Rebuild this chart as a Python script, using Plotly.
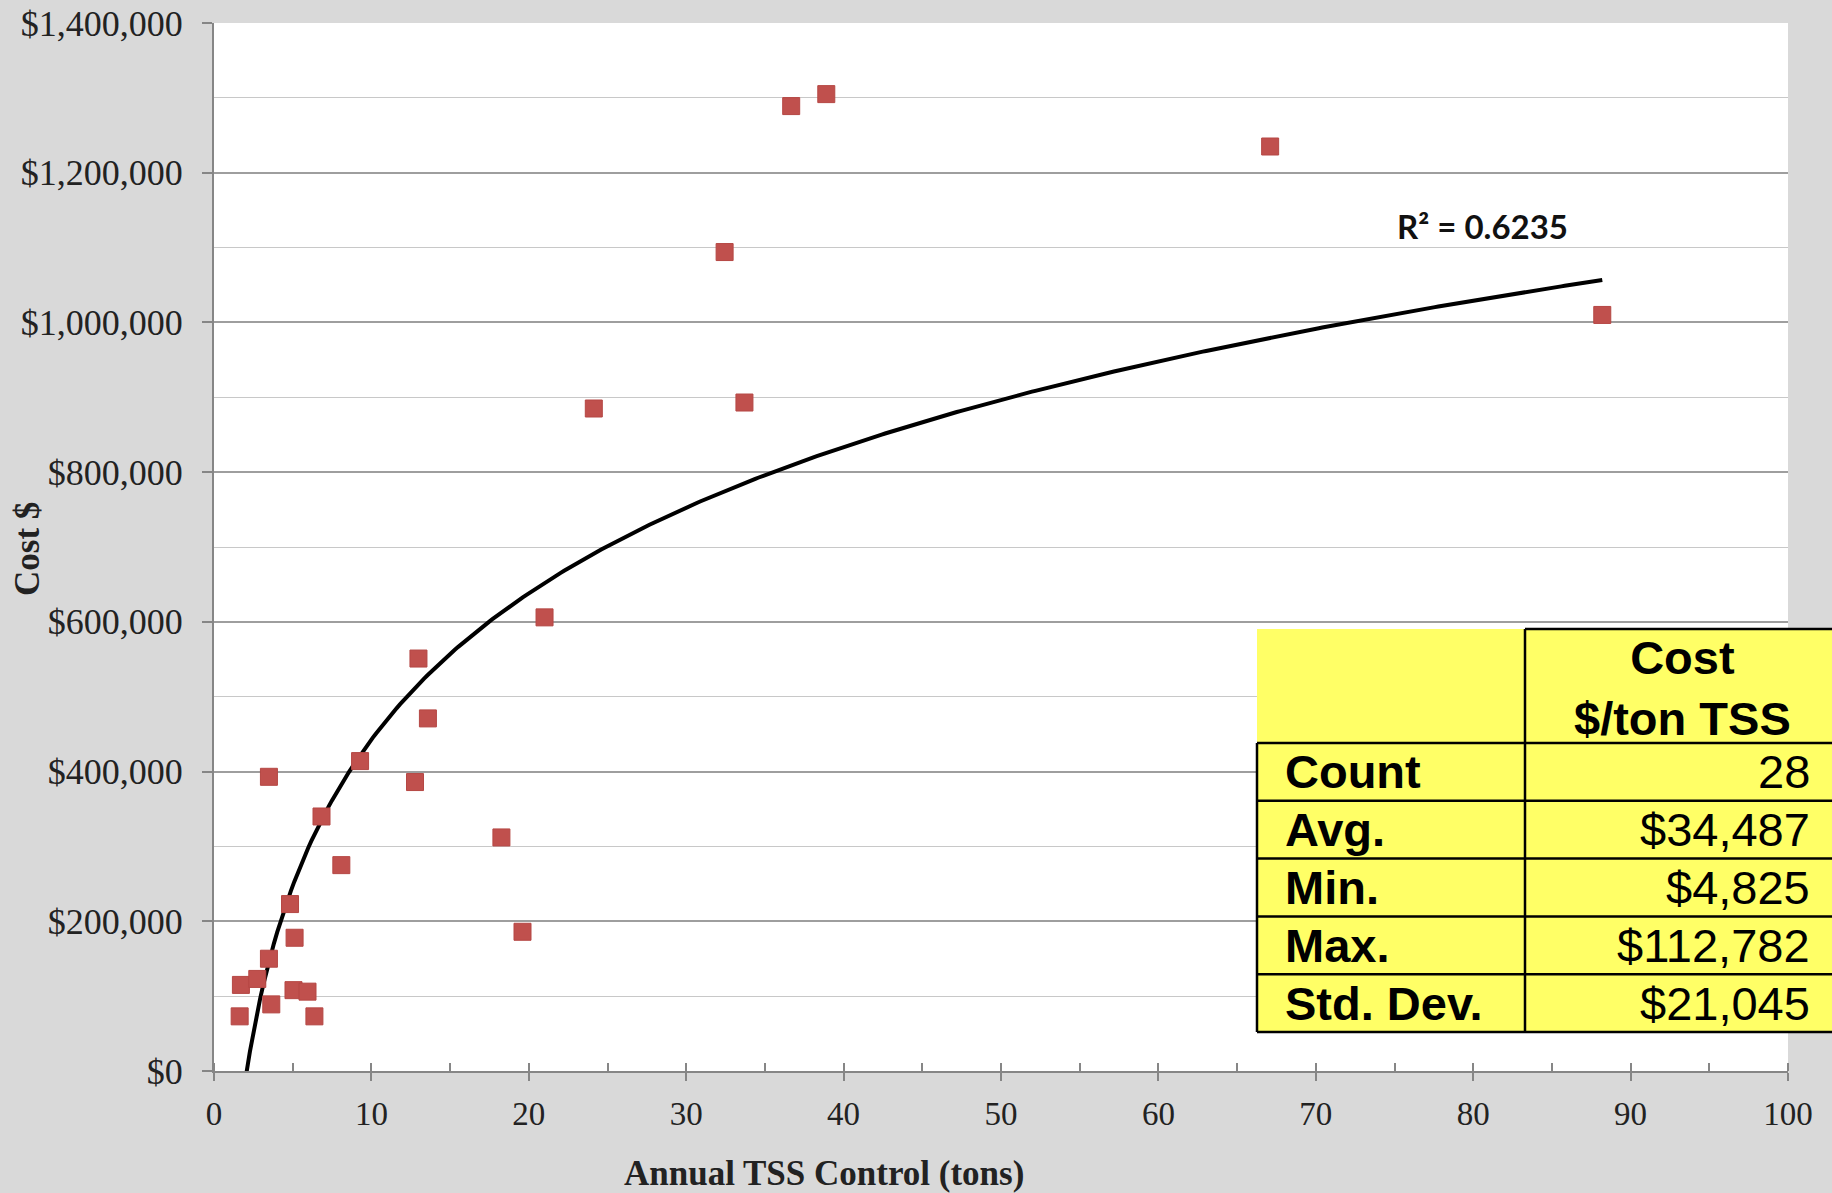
import numpy as np
import plotly.graph_objects as go

# ---- data ----
tss_tons = [1.63, 1.71, 2.75, 3.49, 3.64, 3.49, 4.83, 5.12, 5.05, 5.94, 6.38, 6.83, 8.09, 9.28,
            12.77, 12.99, 13.59, 18.26, 19.6, 21.0, 24.13, 32.44, 33.7, 36.67, 38.9, 67.1, 88.2]
cost_usd = [73000, 115000, 123000, 150000, 89000, 393000, 223000, 178000, 108000, 106000, 73000,
            340000, 275000, 414000, 386000, 551000, 471000, 312000, 186000, 606000, 885000,
            1094000, 893000, 1289000, 1305000, 1235000, 1010000]
r2_label = "R² = 0.6235"

# logarithmic trendline y = a*ln(x) + b, coefficients
trend_a = 282000
trend_b = -206600

table_header = "Cost<br>$/ton TSS"
table_rows = ["Count", "Avg.", "Min.", "Max.", "Std. Dev."]
table_values = ["28", "$34,487", "$4,825", "$112,782", "$21,045"]

xt = np.linspace(min(tss_tons), max(tss_tons), 400)
yt = trend_a * np.log(xt) + trend_b

W, H = 1832, 1193
L, R, T, B = 214, 1788, 23, 1071

def px(xp):
    return (xp - L) / (R - L)

def py(yp):
    return (B - yp) / (B - T)

fig = go.Figure()
fig.add_trace(go.Scatter(x=xt, y=yt, mode="lines", line=dict(color="black", width=4),
                         showlegend=False, hoverinfo="skip"))
fig.add_trace(go.Scatter(x=tss_tons, y=cost_usd, mode="markers",
                         marker=dict(symbol="square", size=17, color="#C0504D",
                                     line=dict(color="#B54744", width=1)),
                         showlegend=False))

serif = "Liberation Serif, Times New Roman, serif"
sans = "Liberation Sans, Arial, sans-serif"

fig.update_layout(
    width=W, height=H,
    paper_bgcolor="#D9D9D9", plot_bgcolor="white",
    margin=dict(l=L, r=W - R, t=T, b=H - B, autoexpand=False),
    xaxis=dict(range=[0, 100], dtick=10, showgrid=False, zeroline=False, automargin=False,
               showline=True, linecolor="#868686", linewidth=2,
               ticks="outside", ticklen=8, tickcolor="#868686", tickwidth=1.5,
               tickfont=dict(family=serif, size=33, color="#222"),
               ticklabelstandoff=4,
               minor=dict(dtick=5, ticks="inside", ticklen=8, tickcolor="#868686", showgrid=False)),
    yaxis=dict(range=[0, 1400000], dtick=200000, tickprefix="$", tickformat=",d", automargin=False,
               showgrid=True, gridcolor="#9E9E9E", gridwidth=1.5, zeroline=False,
               showline=True, linecolor="#868686", linewidth=2,
               ticks="outside", ticklen=10, tickcolor="#868686", tickwidth=1.5,
               tickfont=dict(family=serif, size=36, color="#222"),
               ticklabelstandoff=12,
               minor=dict(dtick=100000, showgrid=True, gridcolor="#C8C8C8", gridwidth=1.2)),
)

annotations = [
    dict(text="<b>Annual TSS Control (tons)</b>", x=px(824), y=py(1173), xref="paper", yref="paper",
         showarrow=False, font=dict(family=serif, size=35, color="#222"), xanchor="center", yanchor="middle"),
    dict(text="<b>Cost $</b>", x=px(27), y=py(549), xref="paper", yref="paper", textangle=-90,
         showarrow=False, font=dict(family=serif, size=35, color="#222"), xanchor="center", yanchor="middle"),
    dict(text="<b>" + r2_label + "</b>", x=px(1482), y=py(226), xref="paper", yref="paper",
         showarrow=False, font=dict(family="Lato, Open Sans, sans-serif", size=33, color="#111"),
         xanchor="center", yanchor="middle"),
]

# ---- summary table ----
tL, tD, tR = 1257, 1525, 1834
tTop, tHeadBot, tBot = 629, 743, 1032
rowh = (tBot - tHeadBot) / len(table_rows)
shapes = [dict(type="rect", xref="paper", yref="paper", x0=px(tL), x1=px(tR), y0=py(tBot), y1=py(tTop),
               fillcolor="#FFFF66", line=dict(width=0), layer="above")]
lw = 2.5
def hline(x0, x1, y):
    shapes.append(dict(type="line", xref="paper", yref="paper", x0=px(x0), x1=px(x1), y0=py(y), y1=py(y),
                       line=dict(color="black", width=lw), layer="above"))
def vline(x, y0, y1):
    shapes.append(dict(type="line", xref="paper", yref="paper", x0=px(x), x1=px(x), y0=py(y0), y1=py(y1),
                       line=dict(color="black", width=lw), layer="above"))
hline(tD, tR, tTop)
vline(tD, tTop, tBot)
vline(tL, tHeadBot, tBot)
for i in range(len(table_rows) + 1):
    hline(tL, tR, tHeadBot + i * rowh)

tfont = 47
annotations.append(dict(text="<b>" + table_header + "</b>", x=px((tD + 1832) / 2 + 4), y=py((tTop + tHeadBot) / 2 + 2),
                        xref="paper", yref="paper", showarrow=False, align="center",
                        font=dict(family=sans, size=tfont, color="black"), xanchor="center", yanchor="middle"))
for i, (lab, val) in enumerate(zip(table_rows, table_values)):
    yc = tHeadBot + (i + 0.5) * rowh
    annotations.append(dict(text="<b>" + lab + "</b>", x=px(1283), y=py(yc), xref="paper", yref="paper",
                            showarrow=False, font=dict(family=sans, size=tfont, color="black"),
                            xanchor="left", yanchor="middle"))
    annotations.append(dict(text=val, x=px(1812), y=py(yc), xref="paper", yref="paper",
                            showarrow=False, font=dict(family=sans, size=tfont, color="black"),
                            xanchor="right", yanchor="middle"))

fig.update_layout(shapes=shapes, annotations=annotations)
fig.write_html("out.html", config={"displayModeBar": False},
               post_script="document.body.style.margin='0';document.body.style.background='#D9D9D9';")
